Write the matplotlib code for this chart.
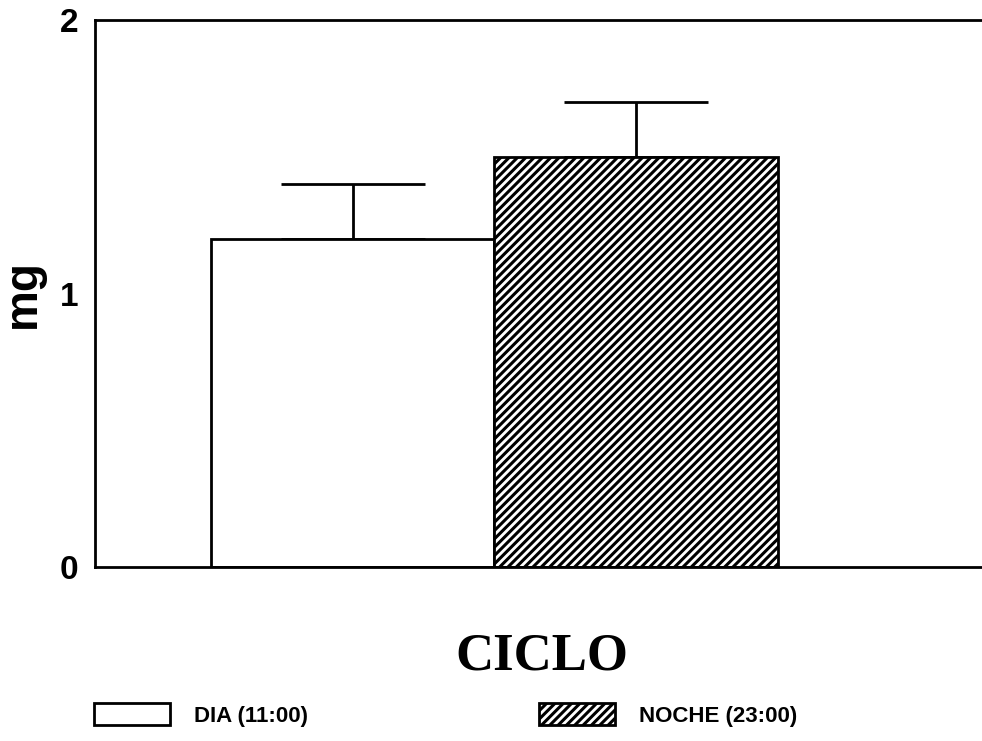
import matplotlib
matplotlib.use('Agg')
import matplotlib.pyplot as plt

# data
labels = ['DIA (11:00)', 'NOCHE (23:00)']
values = [1.2, 1.5]
errors = [0.2, 0.2]
hatches = ['', '////']

plt.rcParams['hatch.linewidth'] = 2.2
plt.rcParams['font.family'] = ['Liberation Sans', 'DejaVu Sans']

fig = plt.figure(figsize=(9.82, 7.41), dpi=100)
ax = fig.add_axes([95 / 982, 1 - 567 / 741, 887 / 982, 547 / 741])

bars = []
for i, (v, e, h, lab) in enumerate(zip(values, errors, hatches, labels)):
    b = ax.bar(i, v, width=1.0, color='white', edgecolor='black', linewidth=2,
               hatch=h, label=lab, zorder=2)
    ax.errorbar(i, v, yerr=[[0], [e]], fmt='none', ecolor='black', elinewidth=2,
                capsize=52, capthick=2, zorder=1)
    bars.append(b)

ax.set_xlim(-0.907, 2.217)
ax.set_ylim(0, 2)
ax.set_yticks([0, 1, 2])
ax.set_yticklabels(['0', '1', '2'], fontsize=24, fontweight='bold')
ax.tick_params(axis='y', length=0, pad=12)
ax.set_xticks([])
ax.spines['right'].set_visible(False)
for s in ['left', 'top', 'bottom']:
    ax.spines[s].set_linewidth(2)

ax.set_ylabel('mg', fontsize=33, fontweight='bold')
ax.yaxis.set_label_coords(-50 / 887, 0.5)
fig.text(542 / 982, 1 - 657 / 741, 'CICLO', ha='center', va='center',
         fontsize=38, fontweight='bold', family='Liberation Serif')

leg = fig.legend(handles=[b[0] for b in bars], labels=labels, ncol=2,
                 loc='center left', bbox_to_anchor=(74 / 982, 1 - 715 / 741),
                 frameon=False, handlelength=3.4, handleheight=1.1,
                 handletextpad=1.1, columnspacing=10.4,
                 prop={'family': 'Liberation Sans', 'weight': 'bold', 'size': 16})

fig.savefig('out.png', dpi=100)
